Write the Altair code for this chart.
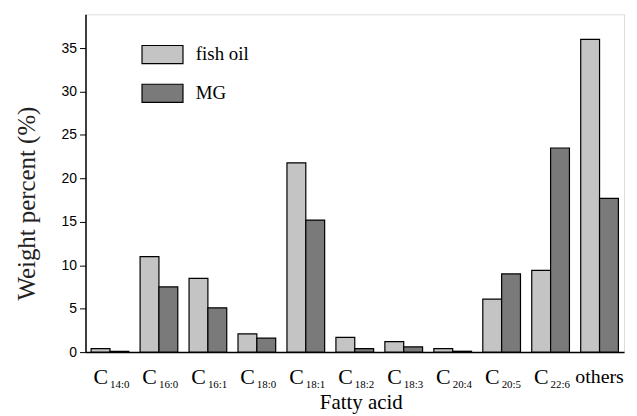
import altair as alt
import pandas as pd

categories = ["C14:0", "C16:0", "C16:1", "C18:0", "C18:1", "C18:2", "C18:3",
              "C20:4", "C20:5", "C22:6", "others"]
fish_oil = [0.4, 11.0, 8.5, 2.1, 21.8, 1.7, 1.2, 0.4, 6.1, 9.4, 36.0]
mg = [0.1, 7.5, 5.1, 1.6, 15.2, 0.4, 0.6, 0.1, 9.0, 23.5, 17.7]
series = ["fish oil", "MG"]
main_labels = ["C", "C", "C", "C", "C", "C", "C", "C", "C", "C", "others"]
sub_labels = ["14:0", "16:0", "16:1", "18:0", "18:1", "18:2", "18:3",
              "20:4", "20:5", "22:6", ""]
y_ticks = [0, 5, 10, 15, 20, 25, 30, 35]

rows = []
for c, f, m in zip(categories, fish_oil, mg):
    rows.append({"acid": c, "series": "fish oil", "value": f})
    rows.append({"acid": c, "series": "MG", "value": m})
df = pd.DataFrame(rows)
labels = pd.DataFrame({"acid": categories, "main": main_labels, "sub": sub_labels})

W, H = 542, 340
serif = "Liberation Serif"
sans = "Liberation Sans"

xscale = alt.Scale(domain=categories, paddingInner=0.23, paddingOuter=0.115)

bars = alt.Chart(df).mark_bar(stroke="black", strokeWidth=1.2).encode(
    x=alt.X("acid:N", scale=xscale, sort=categories,
            axis=alt.Axis(title="Fatty acid", labels=False, ticks=False,
                          domainColor="black", domainWidth=1.5,
                          titleFont=serif, titleFontSize=21, titleFontWeight="normal",
                          titleColor="black", titlePadding=40, titleX=277)),
    xOffset=alt.XOffset("series:N", sort=series, scale=alt.Scale(domain=series, paddingInner=0, paddingOuter=0)),
    y=alt.Y("value:Q", scale=alt.Scale(domain=[0, 38.9], nice=False),
            axis=alt.Axis(title="Weight percent (%)", values=y_ticks, grid=False,
                          tickSize=6, tickColor="black", domainColor="black", domainWidth=1.5,
                          labelFont=sans, labelFontSize=14, labelColor="black", labelPadding=3,
                          titleFont=serif, titleFontSize=25, titleFontWeight="normal",
                          titleColor="#222222", titlePadding=22, titleY=190)),
    fill=alt.Fill("series:N", sort=series,
                  scale=alt.Scale(domain=series, range=["#c4c4c4", "#7a7a7a"]),
                  legend=alt.Legend(title=None, orient="none", legendX=56, legendY=19,
                                    symbolType="M-1,-0.44H1V0.44H-1Z", symbolSize=1700,
                                    symbolStrokeColor="black", symbolStrokeWidth=1.2,
                                    labelFont=serif, labelFontSize=19, labelColor="black",
                                    labelOffset=12, rowPadding=6)),
)

csub = alt.Chart(labels).transform_filter("datum.sub != ''")

c_text = csub.mark_text(font=serif, fontSize=22, align="right", baseline="alphabetic",
                        dx=-2, color="black").encode(
    x=alt.X("acid:N", scale=xscale, sort=categories),
    y=alt.value(H + 32), text="main:N")

s_text = csub.mark_text(font=serif, fontSize=11, align="left", baseline="alphabetic",
                        dx=0, color="black").encode(
    x=alt.X("acid:N", scale=xscale, sort=categories),
    y=alt.value(H + 36), text="sub:N")

o_text = alt.Chart(labels).transform_filter("datum.sub == ''").mark_text(
    font=serif, fontSize=20, align="center", baseline="alphabetic", color="black").encode(
    x=alt.X("acid:N", scale=xscale, sort=categories),
    y=alt.value(H + 31), text="main:N")

chart = alt.layer(bars, c_text, s_text, o_text).properties(
    width=W, height=H,
    autosize=alt.AutoSizeParams(type="none"),
    padding={"left": 78, "top": 5, "right": 5, "bottom": 64},
).configure_view(stroke="black", strokeWidth=1.5).configure(background="white")

chart.save("out.html", embed_options={"renderer": "svg", "actions": False})
